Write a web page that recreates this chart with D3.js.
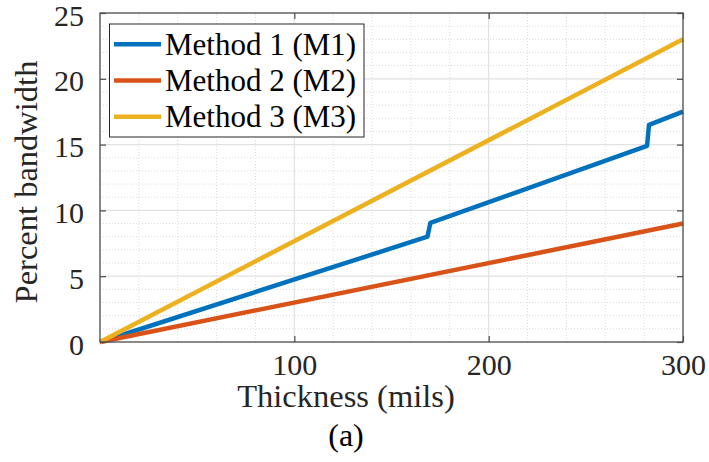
<!DOCTYPE html>
<html>
<head>
<meta charset="utf-8">
<script src="https://cdn.jsdelivr.net/npm/d3@7"></script>
<style>
  html, body { margin: 0; padding: 0; background: #fff; }
  svg text { font-family: "Liberation Serif", "Times New Roman", Times, "DejaVu Serif", serif !important; }
</style>
</head>
<body>
<svg id="chart"></svg>
<script>
// --- data ---
const seriesNames = ["Method 1 (M1)", "Method 2 (M2)", "Method 3 (M3)"];
const m1Thickness = [0, 168.5, 170, 281.5, 282.5, 300];
const m1Bandwidth = [0, 8.0, 9.05, 14.9, 16.5, 17.5];
const m2Thickness = [0, 300];
const m2Bandwidth = [0, 9.0];
const m3Thickness = [0, 300];
const m3Bandwidth = [0, 23.0];
const xTickValues = [100, 200, 300];
const yTickValues = [0, 5, 10, 15, 20, 25];
const colors = ["#0072BD", "#D95319", "#EDB120"];

const series = [
    { name: seriesNames[0], xs: m1Thickness, ys: m1Bandwidth },
    { name: seriesNames[1], xs: m2Thickness, ys: m2Bandwidth },
    { name: seriesNames[2], xs: m3Thickness, ys: m3Bandwidth }
];

// --- setup ---
const width = 709;
const height = 462;
const marginLeft = 100;
const marginRight = 26;
const marginTop = 13;
const marginBottom = 120;

const svg = d3.select("#chart")
    .attr("width", width)
    .attr("height", height)
    .attr("viewBox", [0, 0, width, height]);

const x = d3.scaleLinear()
    .domain([0, 300])
    .range([marginLeft, width - marginRight]);

const y = d3.scaleLinear()
    .domain([0, 25])
    .range([height - marginBottom, marginTop]);

// --- grid (minor dotted, major solid) ---
const grid = svg.append("g");

grid.selectAll(".xminor")
  .data(d3.range(20, 300, 20).filter(d => d % 100 !== 0))
  .join("line")
    .attr("x1", d => x(d)).attr("x2", d => x(d))
    .attr("y1", y(0)).attr("y2", y(25))
    .attr("stroke", "#dcdcdc")
    .attr("stroke-dasharray", "1,2");

grid.selectAll(".yminor")
  .data(d3.range(1, 25, 1).filter(d => d % 5 !== 0))
  .join("line")
    .attr("x1", x(0)).attr("x2", x(300))
    .attr("y1", d => y(d)).attr("y2", d => y(d))
    .attr("stroke", "#dcdcdc")
    .attr("stroke-dasharray", "1,2");

grid.selectAll(".xmajor")
  .data([100, 200])
  .join("line")
    .attr("x1", d => x(d)).attr("x2", d => x(d))
    .attr("y1", y(0)).attr("y2", y(25))
    .attr("stroke", "#e2e2e2")
    .attr("stroke-width", 1.2);

grid.selectAll(".ymajor")
  .data([5, 10, 15, 20])
  .join("line")
    .attr("x1", x(0)).attr("x2", x(300))
    .attr("y1", d => y(d)).attr("y2", d => y(d))
    .attr("stroke", "#e2e2e2")
    .attr("stroke-width", 1.2);

// --- lines ---
const line = d3.line()
    .x(d => x(d[0]))
    .y(d => y(d[1]));

svg.append("g")
  .selectAll("path")
  .data(series)
  .join("path")
    .attr("d", s => line(d3.zip(s.xs, s.ys)))
    .attr("fill", "none")
    .attr("stroke", (s, i) => colors[i])
    .attr("stroke-width", 4.5)
    .attr("stroke-linejoin", "round");

// --- axes (ticks inside, box on) ---
const axisColor = "#4a4a4a";

const xAxis = svg.append("g")
    .attr("transform", `translate(0,${y(0)})`)
    .call(d3.axisBottom(x).tickValues(xTickValues).tickSize(-6).tickSizeOuter(0).tickPadding(0));
xAxis.selectAll("text")
    .attr("y", 33).attr("dy", 0)
    .attr("font-size", 30)
    .attr("fill", "#262626");

const yAxis = svg.append("g")
    .attr("transform", `translate(${x(0)},0)`)
    .call(d3.axisLeft(y).tickValues(yTickValues).tickSize(-6).tickSizeOuter(0).tickPadding(16));
yAxis.selectAll("text")
    .attr("dy", "0.4em")
    .attr("font-size", 30)
    .attr("fill", "#262626");

// top and right ticks
svg.append("g")
    .attr("transform", `translate(0,${y(25)})`)
    .call(d3.axisTop(x).tickValues(xTickValues).tickSize(-6).tickSizeOuter(0).tickFormat(""));
svg.append("g")
    .attr("transform", `translate(${x(300)},0)`)
    .call(d3.axisRight(y).tickValues(yTickValues).tickSize(-6).tickSizeOuter(0).tickFormat(""));

svg.selectAll(".domain").remove();
svg.selectAll(".tick line").attr("stroke", axisColor).attr("stroke-width", 1.2);

svg.append("rect")
    .attr("x", x(0)).attr("y", y(25))
    .attr("width", x(300) - x(0))
    .attr("height", y(0) - y(25))
    .attr("fill", "none")
    .attr("stroke", axisColor)
    .attr("stroke-width", 1.3);

// --- axis labels ---
svg.append("text")
    .attr("x", 346).attr("y", 407)
    .attr("text-anchor", "middle")
    .attr("font-size", 32.5)
    .attr("fill", "#262626")
    .text("Thickness (mils)");

svg.append("text")
    .attr("x", 346).attr("y", 446)
    .attr("text-anchor", "middle")
    .attr("font-size", 32)
    .attr("fill", "#000")
    .text("(a)");

svg.append("text")
    .attr("transform", "translate(37,182) rotate(-90)")
    .attr("text-anchor", "middle")
    .attr("font-size", 32.5)
    .attr("fill", "#262626")
    .text("Percent bandwidth");

// --- legend ---
const legend = svg.append("g");
legend.append("rect")
    .attr("x", 109.5).attr("y", 24)
    .attr("width", 254.5).attr("height", 113)
    .attr("fill", "#fff")
    .attr("stroke", "#262626")
    .attr("stroke-width", 1);

const items = legend.selectAll(".item")
  .data(series)
  .join("g")
    .attr("transform", (d, i) => `translate(0,${44.3 + i * 36.2})`);

items.append("line")
    .attr("x1", 114).attr("x2", 161)
    .attr("stroke", (d, i) => colors[i])
    .attr("stroke-width", 4.5);

items.append("text")
    .attr("x", 165)
    .attr("dy", "0.33em")
    .attr("font-size", 31)
    .attr("fill", "#000")
    .text(d => d.name);
</script>
</body>
</html>
